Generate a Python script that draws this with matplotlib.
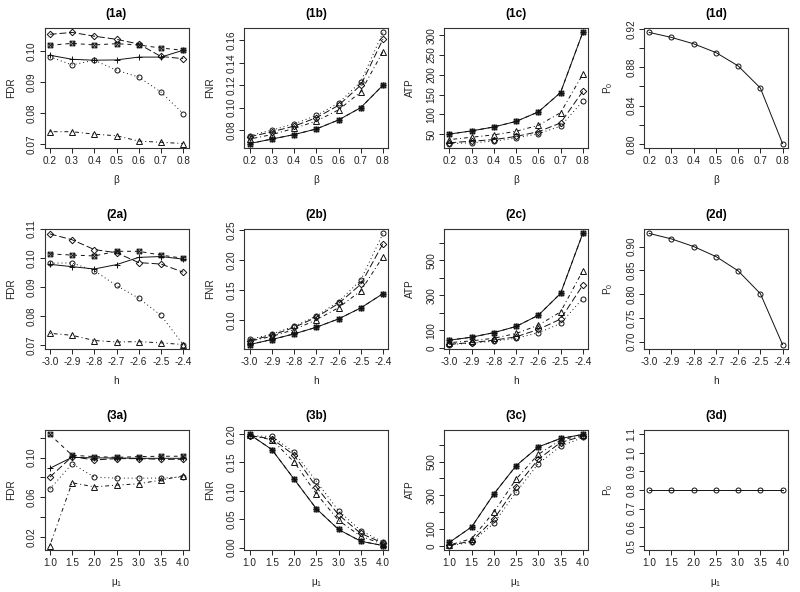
import matplotlib.pyplot as plt
from matplotlib.path import Path

plt.rcParams['font.family'] = ['Liberation Sans', 'DejaVu Sans']
plt.rcParams['mathtext.fontset'] = 'custom'
plt.rcParams['mathtext.rm'] = 'Liberation Sans'
plt.rcParams['mathtext.it'] = 'Liberation Sans'

# -------------------------------
# x values of the three rows
beta = [0.2, 0.3, 0.4, 0.5, 0.6, 0.7, 0.8]
h_vals = [-3.0, -2.9, -2.8, -2.7, -2.6, -2.5, -2.4]
mu1 = [1.0, 1.5, 2.0, 2.5, 3.0, 3.5, 4.0]

# -------------------------------
# row 1 (beta)
fdr1_plus = [0.0986, 0.0973, 0.0970, 0.0971, 0.0980, 0.0980, 0.1002]
fdr1_sqr = [0.1018, 0.1024, 0.1019, 0.1023, 0.1019, 0.1009, 0.1002]
fdr1_dia = [0.1053, 0.1059, 0.1047, 0.1037, 0.1022, 0.0982, 0.0975]
fdr1_circ = [0.0981, 0.0955, 0.0970, 0.0938, 0.0916, 0.0868, 0.0799]
fdr1_tri = [0.0741, 0.0741, 0.0733, 0.0728, 0.0711, 0.0707, 0.0703]

fnr1_plus = [0.068, 0.072, 0.076, 0.081, 0.089, 0.100, 0.120]
fnr1_sqr = [0.068, 0.072, 0.076, 0.081, 0.089, 0.100, 0.120]
fnr1_dia = [0.074, 0.0785, 0.0835, 0.091, 0.102, 0.120, 0.161]
fnr1_circ = [0.075, 0.080, 0.0855, 0.093, 0.104, 0.123, 0.167]
fnr1_tri = [0.072, 0.076, 0.0815, 0.088, 0.098, 0.114, 0.150]

atp1_plus = [50, 58, 68, 82, 106, 155, 307]
atp1_sqr = [50, 58, 68, 82, 106, 155, 307]
atp1_dia = [28, 32, 36, 44, 56, 78, 158]
atp1_circ = [26, 28, 32, 40, 51, 70, 133]
atp1_tri = [36, 42, 48, 57, 72, 104, 201]

p0_1 = [0.9165, 0.9113, 0.9046, 0.8955, 0.8815, 0.8584, 0.8003]

# -------------------------------
# row 2 (h)
fdr2_plus = [0.0978, 0.0970, 0.0962, 0.0977, 0.1002, 0.1005, 0.0996]
fdr2_sqr = [0.1014, 0.1010, 0.1007, 0.1023, 0.1023, 0.1010, 0.0999]
fdr2_dia = [0.1083, 0.1063, 0.1029, 0.1018, 0.0984, 0.0979, 0.0951]
fdr2_circ = [0.0982, 0.0983, 0.0956, 0.0905, 0.0861, 0.0802, 0.0701]
fdr2_tri = [0.0740, 0.0733, 0.0715, 0.0710, 0.0711, 0.0707, 0.0701]

fnr2_plus = [0.0594, 0.0678, 0.0772, 0.0883, 0.1022, 0.1206, 0.1444]
fnr2_sqr = [0.0594, 0.0678, 0.0772, 0.0883, 0.1022, 0.1206, 0.1444]
fnr2_dia = [0.066, 0.075, 0.088, 0.105, 0.128, 0.160, 0.228]
fnr2_circ = [0.068, 0.077, 0.090, 0.107, 0.131, 0.167, 0.245]
fnr2_tri = [0.065, 0.073, 0.0844, 0.1006, 0.121, 0.149, 0.206]

atp2_plus = [44, 61, 87, 122, 186, 310, 652]
atp2_sqr = [44, 61, 87, 122, 186, 310, 652]
atp2_dia = [21, 30, 44, 63, 105, 164, 357]
atp2_circ = [19, 27, 38, 55, 86, 139, 281]
atp2_tri = [30, 40, 55, 82, 129, 205, 439]

p0_2 = [0.9275, 0.916, 0.900, 0.879, 0.849, 0.801, 0.694]

# -------------------------------
# row 3 (mu1)
fdr3_plus = [0.0892, 0.1003, 0.0997, 0.0997, 0.0993, 0.0993, 0.0993]
fdr3_sqr = [0.1234, 0.1024, 0.1010, 0.1003, 0.1010, 0.1014, 0.1014]
fdr3_dia = [0.0803, 0.1010, 0.0976, 0.0990, 0.0990, 0.0983, 0.0983]
fdr3_circ = [0.0681, 0.0939, 0.0803, 0.0793, 0.0793, 0.0793, 0.0803]
fdr3_tri = [0.0112, 0.0746, 0.0705, 0.0722, 0.0736, 0.0773, 0.0817]

fnr3_plus = [0.1994, 0.1728, 0.1207, 0.0686, 0.032, 0.0112, 0.0036]
fnr3_sqr = [0.1994, 0.1728, 0.1207, 0.0686, 0.032, 0.0112, 0.0036]
fnr3_dia = [0.197, 0.192, 0.163, 0.107, 0.058, 0.025, 0.008]
fnr3_circ = [0.197, 0.196, 0.168, 0.117, 0.065, 0.030, 0.010]
fnr3_tri = [0.198, 0.190, 0.151, 0.095, 0.048, 0.020, 0.006]

atp3_plus = [20, 112, 308, 476, 588, 638, 662]
atp3_sqr = [20, 112, 308, 476, 588, 638, 662]
atp3_dia = [2, 28, 158, 350, 514, 614, 652]
atp3_circ = [1, 20, 134, 318, 488, 592, 644]
atp3_tri = [4, 42, 200, 396, 544, 628, 658]

p0_3 = [0.8, 0.8, 0.8, 0.8, 0.8, 0.8, 0.8]

# -------------------------------
# marcador "cuadrado con x" (pch 7 de R)
sq_x = Path([(-1, -1), (1, -1), (1, 1), (-1, 1), (-1, -1), (1, 1), (-1, 1), (1, -1)],
            [Path.MOVETO, Path.LINETO, Path.LINETO, Path.LINETO, Path.LINETO,
             Path.LINETO, Path.MOVETO, Path.LINETO])

styles = [
    dict(ls='-', marker='+', ms=4.2),
    dict(ls=(0, (4, 4)), marker=sq_x, ms=3.4),
    dict(ls=(0, (7, 3)), marker='D', ms=3.3),
    dict(ls=(0, (1, 3)), marker='o', ms=3.6),
    dict(ls=(0, (1, 3, 4, 3)), marker='^', ms=3.9),
]

fig = plt.figure(figsize=(8, 5.92), dpi=100)


def panel(r, c, x, series, title, xlab, ylab, xticks, xticklabels, yticks, yticklabels, ylim=None):
    left = (44.5 + 199.8 * c) / 800
    bottom = 1 - (28 + 201 * r + 120) / 592
    ax = fig.add_axes([left, bottom, 144 / 800, 120 / 592])
    for ys, st in zip(series, styles):
        ax.plot(x, ys, color='#111111', lw=0.7, linestyle=st['ls'], marker=st['marker'],
                ms=st['ms'], mfc='none', mec='#111111', mew=0.7)
    if len(series) == 1:
        ax.lines[0].set_marker('o')
        ax.lines[0].set_linestyle('-')
        ax.lines[0].set_markersize(3.6)
    lo, hi = min(x), max(x)
    ax.set_xlim(lo - 0.04 * (hi - lo), hi + 0.04 * (hi - lo))
    if ylim is None:
        allv = [v for ys in series for v in ys]
        lo, hi = min(allv), max(allv)
        ylim = (lo - 0.04 * (hi - lo), hi + 0.04 * (hi - lo))
    ax.set_ylim(ylim)
    ax.set_xticks(xticks)
    ax.set_xticklabels(xticklabels)
    ax.set_yticks(yticks)
    ax.set_yticklabels(yticklabels, rotation=90, va='center')
    ax.tick_params(direction='out', length=3.5, width=0.7, labelsize=7.2, pad=2,
                   colors='#222222')
    for s in ax.spines.values():
        s.set_linewidth(0.8)
        s.set_color('#333333')
    ax.set_title(title, fontweight='bold', fontsize=8.5, pad=8)
    ax.set_xlabel(xlab, fontsize=7.2, labelpad=7, color='#222222')
    ax.set_ylabel(ylab, fontsize=7.2, labelpad=8, color='#222222')
    return ax


bx = [f"{v:.1f}" for v in beta]
hx = [f"{v:.1f}" for v in h_vals]
mx = [f"{v:.1f}" for v in mu1]

panel(0, 0, beta, [fdr1_plus, fdr1_sqr, fdr1_dia, fdr1_circ, fdr1_tri], "(1a)", "β", "FDR",
      beta, bx, [0.07, 0.08, 0.09, 0.10], ["0.07", "0.08", "0.09", "0.10"])
panel(0, 1, beta, [fnr1_plus, fnr1_sqr, fnr1_dia, fnr1_circ, fnr1_tri], "(1b)", "β", "FNR",
      beta, bx, [0.08, 0.10, 0.12, 0.14, 0.16], ["0.08", "0.10", "0.12", "0.14", "0.16"])
panel(0, 2, beta, [atp1_plus, atp1_sqr, atp1_dia, atp1_circ, atp1_tri], "(1c)", "β", "ATP",
      beta, bx, [50, 100, 150, 200, 250, 300], ["50", "100", "150", "200", "250", "300"])
panel(0, 3, beta, [p0_1], "(1d)", "β", "P$_0$",
      beta, bx, [0.80, 0.82, 0.84, 0.86, 0.88, 0.90, 0.92], ["0.80", "", "0.84", "", "0.88", "", "0.92"])

panel(1, 0, h_vals, [fdr2_plus, fdr2_sqr, fdr2_dia, fdr2_circ, fdr2_tri], "(2a)", "h", "FDR",
      h_vals, hx, [0.07, 0.08, 0.09, 0.10, 0.11], ["0.07", "0.08", "0.09", "0.10", "0.11"])
panel(1, 1, h_vals, [fnr2_plus, fnr2_sqr, fnr2_dia, fnr2_circ, fnr2_tri], "(2b)", "h", "FNR",
      h_vals, hx, [0.10, 0.15, 0.20, 0.25], ["0.10", "0.15", "0.20", "0.25"])
panel(1, 2, h_vals, [atp2_plus, atp2_sqr, atp2_dia, atp2_circ, atp2_tri], "(2c)", "h", "ATP",
      h_vals, hx, [0, 100, 200, 300, 400, 500, 600], ["0", "100", "", "300", "", "500", ""])
panel(1, 3, h_vals, [p0_2], "(2d)", "h", "P$_0$",
      h_vals, hx, [0.70, 0.75, 0.80, 0.85, 0.90], ["0.70", "0.75", "0.80", "0.85", "0.90"])

panel(2, 0, mu1, [fdr3_plus, fdr3_sqr, fdr3_dia, fdr3_circ, fdr3_tri], "(3a)", "μ$_1$", "FDR",
      mu1, mx, [0.02, 0.04, 0.06, 0.08, 0.10, 0.12], ["0.02", "", "0.06", "", "0.10", ""])
panel(2, 1, mu1, [fnr3_plus, fnr3_sqr, fnr3_dia, fnr3_circ, fnr3_tri], "(3b)", "μ$_1$", "FNR",
      mu1, mx, [0.0, 0.05, 0.10, 0.15, 0.20], ["0.00", "0.05", "0.10", "0.15", "0.20"])
panel(2, 2, mu1, [atp3_plus, atp3_sqr, atp3_dia, atp3_circ, atp3_tri], "(3c)", "μ$_1$", "ATP",
      mu1, mx, [0, 100, 200, 300, 400, 500, 600], ["0", "100", "", "300", "", "500", ""])
panel(2, 3, mu1, [p0_3], "(3d)", "μ$_1$", "P$_0$",
      mu1, mx, [0.5, 0.6, 0.7, 0.8, 0.9, 1.0, 1.1], ["0.5", "0.6", "0.7", "0.8", "0.9", "1.0", "1.1"],
      ylim=(0.476, 1.124))

fig.savefig("out.png", dpi=100)
